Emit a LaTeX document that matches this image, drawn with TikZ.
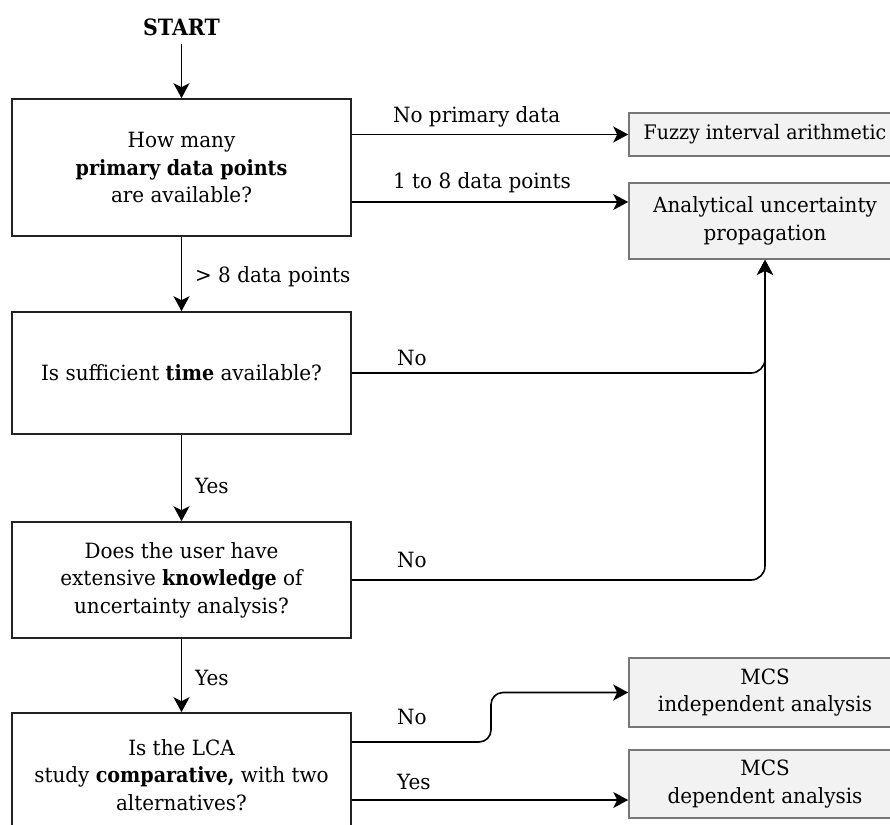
\documentclass[tikz,border=0pt]{standalone}
\usepackage{fontspec}
\setmainfont{DejaVu Serif}[FakeStretch=0.95, BoldFeatures={FakeStretch=0.91}]
\usetikzlibrary{arrows.meta}
\definecolor{boxline}{HTML}{222222}
\definecolor{outfill}{HTML}{F2F2F2}
\definecolor{outline}{HTML}{777777}
\tikzset{
  question/.style={draw=boxline, line width=1.6pt, minimum width=339pt, align=center, inner sep=0pt},
  outcome/.style={draw=outline, fill=outfill, line width=1.6pt, minimum width=272pt, align=center, inner sep=0pt},
  arr/.style={line width=1.6pt, -{Stealth[length=15pt,width=16pt,inset=4pt]}},
  lbl/.style={anchor=west, inner sep=0pt},
}
\begin{document}
\begin{tikzpicture}[x=1pt,y=-1pt,font=\fontsize{21}{27.5}\selectfont]
\useasboundingbox (0,0) rectangle (890,824);
\clip (0,0) rectangle (890,824);
\fill[white] (0,0) rectangle (890,824);

% decision boxes
\node[question, minimum height=137pt] (q1) at (181.5,167.5) {How many\\\textbf{primary data points}\\are available?};
\node[font=\fontsize{22.5}{25}\selectfont\bfseries, inner sep=0pt] (start) at (181.5,27) {START};
\node[question, minimum height=122pt] (q2) at (181.5,373) {Is sufficient \textbf{time} available?};
\node[question, minimum height=116pt] (q3) at (181.5,580) {Does the user have\\extensive \textbf{knowledge} of\\uncertainty analysis?};
\node[question, minimum height=124pt] (q4) at (181.5,775) {Is the LCA\\study \textbf{comparative,} with two\\alternatives?};

% outcome boxes
\node[outcome, minimum height=43pt, font=\fontsize{20}{27.5}\selectfont] (fuzzy) at (765,134.5) {Fuzzy interval arithmetic};
\node[outcome, minimum height=76pt] (anal) at (765,221) {Analytical uncertainty\\propagation};
\node[outcome, minimum height=69pt] (mcsI) at (765,692.5) {MCS\\independent analysis};
\node[outcome, minimum height=68pt] (mcsD) at (765,784) {MCS\\dependent analysis};

% vertical flow
\coordinate (startOut) at ([yshift=-8pt]start.south);
\draw[arr] (startOut) -- (q1.north);
\draw[arr] (q1.south) -- (q2.north);
\draw[arr] (q2.south) -- (q3.north);
\draw[arr] (q3.south) -- (q4.north);

% branches from the first question
\coordinate (fzIn) at (fuzzy.west);
\coordinate (anIn) at ([yshift=19pt]anal.west);
\draw[arr] (q1.east |- fzIn) -- (fzIn);
\draw[arr] (q1.east |- anIn) -- (anIn);

% "No" answers joining upwards into the analytical box
\draw[arr, rounded corners=14pt] (q3.east) -| (anal.south);
\draw[arr, rounded corners=14pt] (q2.east) -| (anal.south);

% branches from the last question
\coordinate (noIn) at (mcsI.west);
\coordinate (yesIn) at ([yshift=-16pt]mcsD.west);
\coordinate (noOut) at ([yshift=33pt]q4.east);
\coordinate (sbend) at (491,717);
\draw[arr, rounded corners=12pt] (noOut) -| (sbend) |- (noIn);
\draw[arr] (q4.east |- yesIn) -- (yesIn);

% branch labels
\node[lbl] (l1) at (393,117) {No primary data};
\node[lbl] (l2) at (393,183) {1 to 8 data points};
\node[lbl] (l3) at (195,277) {> 8 data points};
\node[lbl] (l4) at (397,358) {No};
\node[lbl] (l5) at (195,486) {Yes};
\node[lbl] (l6) at (397,560) {No};
\node[lbl] (l7) at (195,678) {Yes};
\node[lbl] (l8) at (397,717) {No};
\node[lbl] (l9) at (397,782) {Yes};
\end{tikzpicture}
\end{document}
